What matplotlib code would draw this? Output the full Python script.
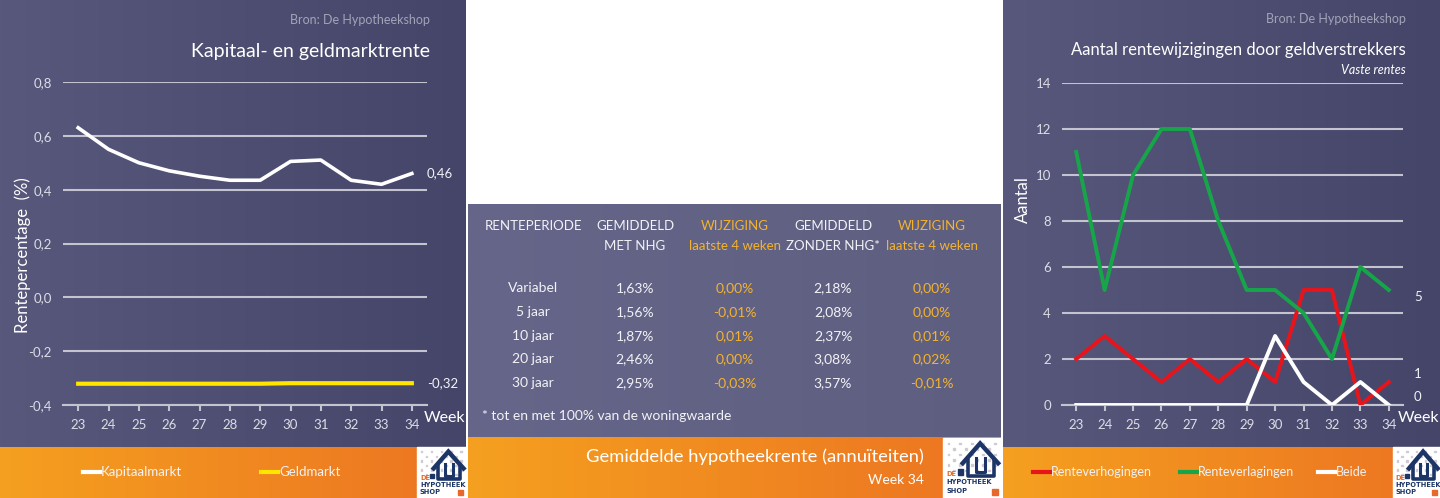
import matplotlib.pyplot as plt
import matplotlib.patches as mpatches
import numpy as np

# ---- data ----
weeks = [23, 24, 25, 26, 27, 28, 29, 30, 31, 32, 33, 34]

kapitaalmarkt = [0.63, 0.55, 0.50, 0.47, 0.45, 0.435, 0.435, 0.505, 0.51, 0.435, 0.42, 0.46]
geldmarkt = [-0.321, -0.321, -0.321, -0.321, -0.321, -0.321, -0.321, -0.319, -0.319, -0.319, -0.319, -0.319]

verhogingen = [2, 3, 2, 1, 2, 1, 2, 1, 5, 5, 0, 1]
verlagingen = [11, 5, 10, 12, 12, 8, 5, 5, 4, 2, 6, 5]
beide = [0, 0, 0, 0, 0, 0, 0, 3, 1, 0, 1, 0]

table_header_1 = ["RENTEPERIODE", "GEMIDDELD", "WIJZIGING", "GEMIDDELD", "WIJZIGING"]
table_header_2 = ["", "MET NHG", "laatste 4 weken", "ZONDER NHG*", "laatste 4 weken"]
periodes = ["Variabel", "5 jaar", "10 jaar", "20 jaar", "30 jaar"]
met_nhg = ["1,63%", "1,56%", "1,87%", "2,46%", "2,95%"]
wijz_met = ["0,00%", "-0,01%", "0,01%", "0,00%", "-0,03%"]
zonder_nhg = ["2,18%", "2,08%", "2,37%", "3,08%", "3,57%"]
wijz_zonder = ["0,00%", "0,00%", "0,01%", "0,02%", "-0,01%"]

W, H = 1440, 498
FONT = ["Lato", "DejaVu Sans"]
plt.rcParams['font.family'] = FONT

TXT = "#f2f2f6"
TICK = "#dcdce6"
GRID = "#c4c4d0"
GOLD = "#f3b32e"
NAVY = "#1d3566"
ORANGE_LOGO = "#e8672a"

fig = plt.figure(figsize=(W / 100, H / 100), dpi=100)
bg = fig.add_axes([0, 0, 1, 1], zorder=0)
bg.set_xlim(0, W)
bg.set_ylim(H, 0)
bg.axis('off')


def gradient(ax, x0, y0, x1, y1, c_left, c_right):
    c1 = np.array(plt.matplotlib.colors.to_rgb(c_left))
    c2 = np.array(plt.matplotlib.colors.to_rgb(c_right))
    t = np.linspace(0, 1, 256)[None, :, None]
    img = c1 + (c2 - c1) * t
    ax.imshow(img, extent=(x0, x1, y1, y0), aspect='auto', zorder=0, interpolation='bilinear')


def px_axes(x0, y0, x1, y1):
    a = fig.add_axes([x0 / W, 1 - y1 / H, (x1 - x0) / W, (y1 - y0) / H], zorder=2)
    a.set_facecolor('none')
    return a


def draw_logo(ax, x0, y0, x1, y1):
    w, h = x1 - x0, y1 - y0
    ax.add_patch(mpatches.Rectangle((x0, y0), w, h, color='white', zorder=3))
    # dotted background
    for i in range(9):
        for j in range(6):
            if (i + j) % 2:
                continue
            ax.add_patch(mpatches.Rectangle((x0 + w * (0.08 + i * 0.1), y0 + h * (0.08 + j * 0.09)),
                                            w * 0.03, h * 0.025, color="#cfcad4", zorder=4))
    X = lambda r: x0 + w * r
    Y = lambda r: y0 + h * r
    ax.plot([X(0.34), X(0.64), X(0.95)], [Y(0.42), Y(0.09), Y(0.42)], color=NAVY, lw=3.2,
            solid_joinstyle='miter', zorder=5)
    ax.plot([X(0.43), X(0.43), X(0.88), X(0.88)], [Y(0.36), Y(0.63), Y(0.63), Y(0.36)],
            color=NAVY, lw=2.6, zorder=5)
    ax.plot([X(0.57), X(0.57), X(0.73), X(0.73)], [Y(0.34), Y(0.56), Y(0.56), Y(0.34)],
            color=NAVY, lw=2.2, zorder=5)
    ax.add_patch(mpatches.Rectangle((X(0.26), Y(0.52)), w * 0.09, h * 0.09, color=NAVY, zorder=5))
    ax.add_patch(mpatches.Rectangle((X(0.84), Y(0.85)), w * 0.1, h * 0.1, color=ORANGE_LOGO, zorder=5))
    ax.text(X(0.06), Y(0.6), "DE", color=ORANGE_LOGO, fontsize=4.8, fontweight='bold',
            va='center', ha='left', zorder=6, family=["DejaVu Sans"])
    ax.text(X(0.06), Y(0.74), "HYPOTHEEK", color=NAVY, fontsize=4.8, fontweight='bold',
            va='center', ha='left', zorder=6, family=["DejaVu Sans"])
    ax.text(X(0.06), Y(0.88), "SHOP", color=NAVY, fontsize=4.8, fontweight='bold',
            va='center', ha='left', zorder=6, family=["DejaVu Sans"])


# ---- panel backgrounds ----
gradient(bg, 0, 0, 466, 447, "#58587c", "#45456a")
gradient(bg, 0, 447, 466, 498, "#f5a01f", "#ec7322")
gradient(bg, 468, 204, 1001, 437, "#66668a", "#5e5e80")
gradient(bg, 468, 437, 1001, 498, "#f5a01f", "#ec7322")
gradient(bg, 1003, 0, 1440, 447, "#58587c", "#45456a")
gradient(bg, 1003, 447, 1440, 498, "#f5a01f", "#ec7322")

draw_logo(bg, 417, 447, 466, 498)
draw_logo(bg, 943, 438, 1001, 498)
draw_logo(bg, 1393, 447, 1440, 498)


def style_axes(a, ymin, ymax, yticks, fmt):
    a.set_xlim(22.5, 34.5)
    a.set_ylim(ymin, ymax)
    a.set_xticks(weeks)
    a.set_xticklabels([str(w) for w in weeks])
    a.set_yticks(yticks)
    a.set_yticklabels([fmt(v) for v in yticks])
    for s in ['top', 'right', 'left']:
        a.spines[s].set_visible(False)
    a.spines['bottom'].set_color(GRID)
    a.spines['bottom'].set_linewidth(1.5)
    a.grid(axis='y', color=GRID, lw=1.5)
    a.set_axisbelow(True)
    a.tick_params(axis='x', colors=GRID, labelcolor=TICK, labelsize=9.5, length=4, width=1.5, pad=6)
    a.tick_params(axis='y', labelcolor=TICK, labelsize=9.5, length=0, pad=8)


# ---- left chart ----
ax1 = px_axes(63, 82, 427, 405)
style_axes(ax1, -0.4, 0.8, [-0.4, -0.2, 0.0, 0.2, 0.4, 0.6, 0.8],
           lambda v: f"{v:.1f}".replace('.', ','))
ax1.plot(weeks, kapitaalmarkt, color='white', lw=2.6, solid_joinstyle='round', zorder=3)
ax1.plot(weeks, geldmarkt, color='#ffe500', lw=3, zorder=3)
ax1.annotate(f"{kapitaalmarkt[-1]:.2f}".replace('.', ','), (weeks[-1], kapitaalmarkt[-1]),
             xytext=(11, 0), textcoords='offset points', color=TXT, fontsize=9.5,
             va='center', ha='left', annotation_clip=False)
ax1.annotate(f"{geldmarkt[-1]:.2f}".replace('.', ','), (weeks[-1], geldmarkt[-1]),
             xytext=(11, 0), textcoords='offset points', color=TXT, fontsize=9.5,
             va='center', ha='left', annotation_clip=False)

fig.text(430 / W, 1 - 20 / H, "Bron: De Hypotheekshop", color="#a3a3b8", fontsize=9, ha='right', va='center')
fig.text(430 / W, 1 - 52 / H, "Kapitaal- en geldmarktrente", color='white', fontsize=14, ha='right', va='center')
fig.text(23 / W, 1 - 255 / H, "Rentepercentage  (%)", color='white', fontsize=12, rotation=90,
         ha='center', va='center')
fig.text(445 / W, 1 - 418 / H, "Week", color='white', fontsize=11.5, ha='center', va='center')

# legend left
bg.plot([83, 100], [472, 472], color='white', lw=3, zorder=3)
bg.text(101, 472, "Kapitaalmarkt", color=TXT, fontsize=9.5, va='center', ha='left', zorder=3)
bg.plot([261, 278], [472, 472], color='#ffe500', lw=3, zorder=3)
bg.text(279, 472, "Geldmarkt", color=TXT, fontsize=9.5, va='center', ha='left', zorder=3)

# ---- middle table ----
col_x = [533, 635, 735, 833, 932]
col_color = [TXT, TXT, GOLD, TXT, GOLD]
for cx, h1, h2, c in zip(col_x, table_header_1, table_header_2, col_color):
    bg.text(cx, 226, h1, color=c, fontsize=9.5, ha='center', va='center', zorder=3)
    bg.text(cx, 246, h2, color=c, fontsize=9.5, ha='center', va='center', zorder=3)

row_y = [288, 312, 336, 359, 383]
columns = [periodes, met_nhg, wijz_met, zonder_nhg, wijz_zonder]
for cx, col, c in zip(col_x, columns, col_color):
    for ry, val in zip(row_y, col):
        bg.text(cx, ry, val, color=c, fontsize=10, ha='center', va='center', zorder=3)

bg.text(482, 416, "* tot en met 100% van de woningwaarde", color=TXT, fontsize=10,
        ha='left', va='center', zorder=3)
bg.text(924, 457, "Gemiddelde hypotheekrente (annuïteiten)", color='white', fontsize=13.2,
        ha='right', va='center', zorder=3)
bg.text(924, 480, "Week 34", color='white', fontsize=10, ha='right', va='center', zorder=3)

# ---- right chart ----
ax2 = px_axes(1062, 83, 1403, 405)
style_axes(ax2, 0, 14, [0, 2, 4, 6, 8, 10, 12, 14], lambda v: f"{v:d}")
ax2.plot(weeks, verhogingen, color='#e8141c', lw=2.8, zorder=3)
ax2.plot(weeks, verlagingen, color='#17a54a', lw=2.8, zorder=3)
ax2.plot(weeks, beide, color='white', lw=2.8, zorder=3)
ax2.annotate(str(verlagingen[-1]), (weeks[-1], verlagingen[-1]), xytext=(18, -5),
             textcoords='offset points', color=TXT, fontsize=9.5, va='center', ha='left',
             annotation_clip=False)
ax2.annotate(str(verhogingen[-1]), (weeks[-1], verhogingen[-1]), xytext=(18, 6),
             textcoords='offset points', color=TXT, fontsize=9.5, va='center', ha='left',
             annotation_clip=False)
ax2.annotate(str(beide[-1]), (weeks[-1], beide[-1]), xytext=(18, 6),
             textcoords='offset points', color=TXT, fontsize=9.5, va='center', ha='left',
             annotation_clip=False)

fig.text(1406 / W, 1 - 19 / H, "Bron: De Hypotheekshop", color="#a3a3b8", fontsize=9, ha='right', va='center')
fig.text(1406 / W, 1 - 50 / H, "Aantal rentewijzigingen door geldverstrekkers", color='white',
         fontsize=12, ha='right', va='center')
fig.text(1406 / W, 1 - 70 / H, "Vaste rentes", color='white', fontsize=9, style='italic',
         ha='right', va='center')
fig.text(1023 / W, 1 - 200 / H, "Aantal", color='white', fontsize=12, rotation=90,
         ha='center', va='center')
fig.text(1419 / W, 1 - 418 / H, "Week", color='white', fontsize=11.5, ha='center', va='center')

# legend right
bg.plot([1033, 1050], [472, 472], color='#e8141c', lw=3, zorder=3)
bg.text(1051, 472, "Renteverhogingen", color=TXT, fontsize=9, va='center', ha='left', zorder=3)
bg.plot([1180, 1197], [472, 472], color='#17a54a', lw=3, zorder=3)
bg.text(1198, 472, "Renteverlagingen", color=TXT, fontsize=9, va='center', ha='left', zorder=3)
bg.plot([1318, 1335], [472, 472], color='white', lw=3, zorder=3)
bg.text(1336, 472, "Beide", color=TXT, fontsize=9, va='center', ha='left', zorder=3)

fig.savefig("out.png", dpi=100)
